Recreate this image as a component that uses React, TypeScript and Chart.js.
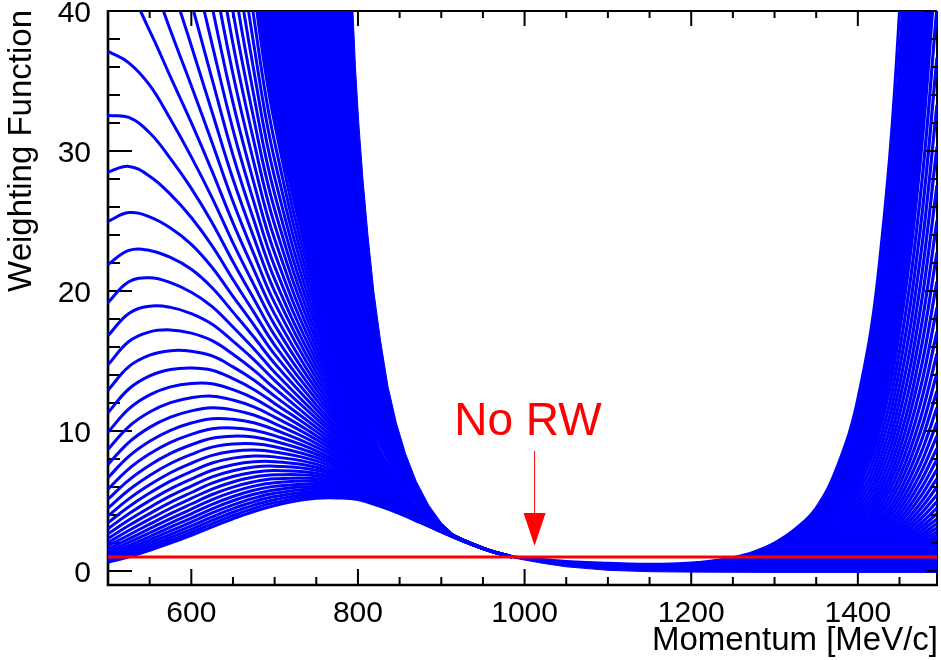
import React, { useEffect, useRef } from "react";
import { Chart, registerables } from "chart.js";

Chart.register(...registerables);

// ---------------- axes ----------------
const X_RANGE = [500, 1495];
const Y_RANGE = [-1, 40];
const X_MAJOR_TICKS = [600, 800, 1000, 1200, 1400];
const X_MINOR_TICKS = [550, 600, 650, 700, 750, 800, 850, 900, 950, 1000, 1050, 1100, 1150, 1200, 1250, 1300, 1350, 1400, 1450];
const Y_MAJOR_TICKS = [0, 10, 20, 30, 40];
const Y_MINOR_TICKS = [0, 2, 4, 6, 8, 10, 12, 14, 16, 18, 20, 22, 24, 26, 28, 30, 32, 34, 36, 38, 40];
const X_TICK_LABELS = ["600", "800", "1000", "1200", "1400"];
const Y_TICK_LABELS = ["0", "10", "20", "30", "40"];
const X_TITLE = "Momentum [MeV/c]";
const Y_TITLE = "Weighting Function";

// ---------------- nominal (no reweighting) ----------------
const noRwP = [500, 1495];
const noRwW = [1, 1];
const NO_RW_TEXT = "No RW";
const NO_RW_TEXT_AT = { p: 1004, w: 9.7 };
const NO_RW_ARROW = { p: 1012, from: 8.57, headBase: 4.14, tip: 1.81 };

// ---------------- lowest weighting curve (whole range) ----------------
const bottomP = [500, 525, 550, 575, 600, 625, 650, 675, 700, 725, 750, 775, 800, 825, 850, 875, 900, 925, 950, 975, 1000, 1025, 1050, 1075, 1100, 1125, 1150, 1175, 1200, 1225, 1250, 1275, 1300, 1325, 1350, 1375, 1400, 1425, 1450, 1475, 1495];
const bottomW = [0.62, 1.02, 1.48, 2.0, 2.54, 3.15, 3.73, 4.25, 4.68, 5.0, 5.2, 5.22, 5.1, 4.65, 4.1, 3.45, 2.8, 2.15, 1.6, 1.15, 0.92, 0.8, 0.68, 0.6, 0.55, 0.5, 0.48, 0.5, 0.57, 0.72, 0.95, 1.35, 2.0, 3.0, 4.5, 7.4, 12.3, 21.5, 40, 72, 115];

// ---------------- low-momentum family (one row per curve) ----------------
const leftP = [500, 525, 550, 575, 600, 625, 650, 675, 700, 750, 800, 850, 900, 950, 985];
const leftW = [
  [0.708, 1.145, 1.639, 2.187, 2.749, 3.373, 3.956, 4.471, 4.883, 5.358, 5.196, 4.137, 2.806, 1.601, 1],
  [0.807, 1.286, 1.814, 2.393, 2.975, 3.614, 4.198, 4.704, 5.096, 5.518, 5.295, 4.174, 2.812, 1.602, 1],
  [0.921, 1.444, 2.009, 2.617, 3.221, 3.872, 4.455, 4.949, 5.318, 5.683, 5.396, 4.211, 2.819, 1.602, 1],
  [1.051, 1.621, 2.225, 2.863, 3.486, 4.148, 4.727, 5.206, 5.55, 5.853, 5.499, 4.249, 2.825, 1.603, 1],
  [1.2, 1.819, 2.463, 3.131, 3.773, 4.444, 5.016, 5.477, 5.792, 6.028, 5.604, 4.287, 2.831, 1.604, 1],
  [1.369, 2.043, 2.728, 3.425, 4.085, 4.761, 5.322, 5.762, 6.045, 6.209, 5.711, 4.325, 2.837, 1.605, 1],
  [1.562, 2.293, 3.02, 3.747, 4.421, 5.1, 5.648, 6.062, 6.309, 6.395, 5.82, 4.364, 2.844, 1.606, 1],
  [1.782, 2.574, 3.344, 4.098, 4.786, 5.464, 5.993, 6.377, 6.584, 6.586, 5.931, 4.403, 2.85, 1.606, 1],
  [2.034, 2.89, 3.703, 4.483, 5.18, 5.854, 6.359, 6.709, 6.871, 6.783, 6.044, 4.442, 2.856, 1.607, 1],
  [2.321, 3.245, 4.1, 4.904, 5.607, 6.271, 6.747, 7.058, 7.171, 6.986, 6.16, 4.482, 2.862, 1.608, 1],
  [2.649, 3.642, 4.54, 5.364, 6.069, 6.718, 7.16, 7.424, 7.484, 7.196, 6.277, 4.522, 2.869, 1.609, 1],
  [3.022, 4.09, 5.027, 5.867, 6.569, 7.198, 7.596, 7.81, 7.81, 7.411, 6.397, 4.562, 2.875, 1.61, 1],
  [3.449, 4.591, 5.566, 6.418, 7.111, 7.711, 8.061, 8.217, 8.151, 7.633, 6.519, 4.603, 2.882, 1.61, 1],
  [3.935, 5.154, 6.163, 7.02, 7.697, 8.261, 8.553, 8.644, 8.506, 7.862, 6.643, 4.644, 2.888, 1.611, 1],
  [4.491, 5.786, 6.825, 7.679, 8.331, 8.851, 9.076, 9.094, 8.878, 8.097, 6.77, 4.685, 2.894, 1.612, 1],
  [5.124, 6.496, 7.557, 8.4, 9.018, 9.482, 9.63, 9.567, 9.265, 8.34, 6.899, 4.727, 2.901, 1.613, 1],
  [5.847, 7.293, 8.368, 9.188, 9.761, 10.16, 10.22, 10.06, 9.669, 8.589, 7.031, 4.77, 2.907, 1.614, 1],
  [6.673, 8.187, 9.265, 10.05, 10.57, 10.88, 10.84, 10.59, 10.09, 8.846, 7.165, 4.812, 2.914, 1.614, 1],
  [7.614, 9.191, 10.26, 10.99, 11.44, 11.66, 11.51, 11.14, 10.53, 9.111, 7.302, 4.856, 2.92, 1.615, 1],
  [8.689, 10.32, 11.36, 12.03, 12.38, 12.49, 12.21, 11.72, 10.99, 9.384, 7.441, 4.899, 2.926, 1.616, 1],
  [9.915, 11.58, 12.58, 13.15, 13.4, 13.38, 12.95, 12.33, 11.47, 9.665, 7.583, 4.943, 2.933, 1.617, 1],
  [11.31, 13.0, 13.93, 14.39, 14.5, 14.34, 13.74, 12.97, 11.97, 9.954, 7.728, 4.987, 2.939, 1.618, 1],
  [12.91, 14.6, 15.42, 15.74, 15.7, 15.36, 14.58, 13.64, 12.49, 10.25, 7.875, 5.031, 2.946, 1.618, 1],
  [14.73, 16.39, 17.08, 17.22, 16.99, 16.45, 15.48, 14.35, 13.04, 10.56, 8.026, 5.076, 2.953, 1.619, 1],
  [16.81, 18.4, 18.91, 18.83, 18.39, 17.63, 16.42, 15.1, 13.61, 10.88, 8.179, 5.122, 2.959, 1.62, 1],
  [19.18, 20.66, 20.94, 20.6, 19.91, 18.89, 17.43, 15.88, 14.2, 11.2, 8.335, 5.168, 2.966, 1.621, 1],
  [21.89, 22.9, 22.9, 22.4, 21.55, 20.23, 18.49, 16.71, 14.82, 11.54, 8.494, 5.214, 2.972, 1.622, 1],
  [24.98, 25.6, 25.3, 24.5, 23.33, 21.68, 19.62, 17.58, 15.47, 11.88, 8.656, 5.26, 2.979, 1.622, 1],
  [28.5, 28.9, 28.2, 26.9, 25.25, 23.22, 20.82, 18.49, 16.14, 12.24, 8.822, 5.307, 2.986, 1.623, 1],
  [32.53, 32.4, 31.3, 29.45, 27.33, 24.88, 22.09, 19.45, 16.84, 12.6, 8.99, 5.355, 2.992, 1.624, 1],
  [37.12, 36.3, 34.7, 32.26, 29.58, 26.65, 23.44, 20.46, 17.58, 12.98, 9.162, 5.403, 2.999, 1.625, 1],
  [42.36, 41.36, 38.58, 35.29, 32.02, 28.55, 24.87, 21.53, 18.35, 13.37, 9.336, 5.451, 3.006, 1.626, 1],
  [48.3, 46.43, 42.73, 38.6, 34.66, 30.59, 26.39, 22.65, 19.15, 13.77, 9.514, 5.5, 3.012, 1.627, 1],
  [55.1, 52.13, 47.31, 42.22, 37.52, 32.77, 28.0, 23.83, 19.98, 14.18, 9.696, 5.549, 3.019, 1.627, 1],
  [62.9, 58.5, 52.39, 46.18, 40.61, 35.11, 29.71, 25.07, 20.85, 14.61, 9.881, 5.599, 3.026, 1.628, 1],
  [71.8, 65.7, 58.0, 50.51, 43.96, 37.61, 31.53, 26.37, 21.76, 15.04, 10.07, 5.649, 3.033, 1.629, 1],
  [81.9, 73.8, 64.2, 55.25, 47.58, 40.3, 33.45, 27.74, 22.71, 15.49, 10.26, 5.7, 3.039, 1.63, 1],
  [93.5, 82.8, 71.1, 60.44, 51.5, 43.17, 35.5, 29.19, 23.71, 15.96, 10.46, 5.751, 3.046, 1.631, 1],
  [106.7, 93.0, 78.8, 66.1, 55.74, 46.25, 37.66, 30.7, 24.74, 16.44, 10.66, 5.802, 3.053, 1.631, 1],
  [121.8, 104.4, 87.2, 72.3, 60.34, 49.55, 39.97, 32.3, 25.82, 16.93, 10.86, 5.853, 3.06, 1.632, 1],
  [139, 117.2, 96.5, 79.1, 65.3, 53.09, 42.41, 33.98, 26.94, 17.44, 11.07, 5.905, 3.067, 1.633, 1],
  [158.6, 131.6, 106.9, 86.5, 70.7, 56.88, 45.0, 35.75, 28.12, 17.96, 11.28, 5.958, 3.074, 1.634, 1],
  [181, 147.7, 118.4, 94.6, 76.5, 60.93, 47.75, 37.61, 29.35, 18.5, 11.49, 6.012, 3.081, 1.635, 1],
  [206, 165.8, 131.1, 103.5, 82.8, 65.28, 50.67, 39.57, 30.63, 19.05, 11.71, 6.065, 3.087, 1.635, 1],
  [236, 186.1, 145.1, 113.2, 89.7, 69.9, 53.76, 41.62, 31.96, 19.62, 11.94, 6.12, 3.094, 1.636, 1],
  [269, 209, 160.7, 123.9, 97.1, 74.9, 57.05, 43.79, 33.36, 20.21, 12.16, 6.174, 3.101, 1.637, 1],
];

// ---------------- high-momentum fan (one row per curve) ----------------
const fanP = [1250, 1275, 1300, 1325, 1350, 1375, 1400, 1425, 1450, 1475, 1495];
const fanW = [
  [0.911, 1.288, 1.898, 2.835, 4.229, 6.914, 11.44, 19.87, 36.75, 65.8, 104.6],
  [0.874, 1.229, 1.802, 2.678, 3.975, 6.462, 10.63, 18.36, 33.75, 60.2, 95.0],
  [0.838, 1.172, 1.711, 2.529, 3.736, 6.04, 9.885, 16.96, 31.0, 55.0, 86.4],
  [0.803, 1.119, 1.624, 2.389, 3.512, 5.646, 9.189, 15.67, 28.47, 50.2, 78.6],
  [0.77, 1.067, 1.542, 2.257, 3.3, 5.278, 8.542, 14.48, 26.15, 45.9, 71.5],
  [0.739, 1.018, 1.464, 2.132, 3.102, 4.933, 7.94, 13.38, 24.02, 41.97, 64.9],
  [0.708, 0.971, 1.39, 2.014, 2.915, 4.611, 7.382, 12.37, 22.07, 38.36, 59.0],
  [0.679, 0.927, 1.319, 1.902, 2.74, 4.31, 6.862, 11.43, 20.27, 35.06, 53.7],
  [0.651, 0.884, 1.252, 1.797, 2.575, 4.029, 6.379, 10.56, 18.62, 32.04, 48.8],
  [0.624, 0.844, 1.189, 1.697, 2.421, 3.766, 5.93, 9.757, 17.1, 29.28, 44.35],
  [0.599, 0.805, 1.129, 1.603, 2.275, 3.52, 5.512, 9.016, 15.71, 26.76, 40.32],
  [0.574, 0.768, 1.071, 1.514, 2.138, 3.29, 5.124, 8.331, 14.43, 24.46, 36.67],
  [0.55, 0.733, 1.017, 1.43, 2.01, 3.076, 4.763, 7.698, 13.25, 22.35, 33.31],
  [0.528, 0.699, 0.966, 1.351, 1.889, 2.875, 4.428, 7.113, 12.17, 20.43, 30.3],
  [0.506, 0.667, 0.917, 1.276, 1.775, 2.687, 4.116, 6.573, 11.18, 18.67, 27.55],
  [0.485, 0.636, 0.87, 1.206, 1.669, 2.512, 3.827, 6.074, 10.27, 17.06, 25.03],
  [0.465, 0.607, 0.826, 1.139, 1.568, 2.348, 3.557, 5.612, 9.431, 15.6, 22.76],
  [0.446, 0.579, 0.784, 1.076, 1.474, 2.195, 3.307, 5.186, 8.662, 14.25, 20.7],
  [0.428, 0.553, 0.745, 1.016, 1.385, 2.051, 3.074, 4.792, 7.957, 13.03, 18.82],
  [0.41, 0.527, 0.707, 0.96, 1.302, 1.917, 2.858, 4.428, 7.308, 11.91, 17.1],
  [0.393, 0.503, 0.671, 0.907, 1.224, 1.792, 2.656, 4.092, 6.713, 10.88, 15.55],
  [0.377, 0.48, 0.637, 0.856, 1.15, 1.675, 2.469, 3.781, 6.166, 9.944, 14.14],
  [0.362, 0.458, 0.605, 0.809, 1.081, 1.566, 2.296, 3.494, 5.663, 9.088, 12.85],
  [0.347, 0.437, 0.574, 0.764, 1.016, 1.464, 2.134, 3.229, 5.202, 8.306, 11.68],
  [0.333, 0.417, 0.545, 0.722, 0.955, 1.368, 1.984, 2.983, 4.778, 7.591, 10.62],
  [0.319, 0.398, 0.517, 0.682, 0.898, 1.279, 1.844, 2.757, 4.389, 6.938, 9.65],
  [0.306, 0.379, 0.491, 0.644, 0.844, 1.195, 1.714, 2.547, 4.031, 6.341, 8.776],
  [0.293, 0.362, 0.466, 0.608, 0.793, 1.117, 1.594, 2.354, 3.703, 5.795, 7.98],
  [0.281, 0.345, 0.443, 0.575, 0.745, 1.044, 1.481, 2.175, 3.401, 5.296, 7.257],
  [0.27, 0.33, 0.42, 0.543, 0.7, 0.976, 1.377, 2.01, 3.124, 4.84, 6.593],
  [0.258, 0.314, 0.399, 0.513, 0.658, 0.913, 1.28, 1.857, 2.869, 4.424, 5.995],
  [0.248, 0.3, 0.379, 0.484, 0.619, 0.853, 1.19, 1.716, 2.635, 4.043, 5.452],
  [0.238, 0.286, 0.359, 0.457, 0.582, 0.797, 1.106, 1.586, 2.421, 3.695, 4.953],
  [0.228, 0.273, 0.341, 0.432, 0.547, 0.745, 1.028, 1.465, 2.223, 3.377, 4.504],
  [0.218, 0.261, 0.324, 0.408, 0.514, 0.697, 0.956, 1.354, 2.042, 3.086, 4.096],
  [0.21, 0.249, 0.308, 0.386, 0.483, 0.651, 0.889, 1.251, 1.876, 2.821, 3.721],
  [0.201, 0.237, 0.292, 0.364, 0.454, 0.609, 0.826, 1.156, 1.723, 2.578, 3.384],
  [0.193, 0.226, 0.277, 0.344, 0.427, 0.569, 0.768, 1.068, 1.582, 2.356, 3.077],
  [0.185, 0.216, 0.263, 0.325, 0.401, 0.532, 0.714, 0.987, 1.454, 2.153, 2.795],
  [0.177, 0.206, 0.25, 0.307, 0.377, 0.497, 0.664, 0.912, 1.335, 1.968, 2.542],
];

// ---------------- densely packed curves: outline of the solid bands ----------------
const leftBandP = [650, 675, 700, 750, 800, 850, 900, 925, 950, 975, 985, 975, 960, 945, 930, 915, 900, 885, 870, 857, 846, 836, 827, 819, 812, 806, 801, 797, 794, 790, 650];
const leftBandW = [53.76, 41.62, 31.96, 19.62, 11.94, 6.12, 2.8, 2.15, 1.6, 1.15, 1.0, 1.2, 1.45, 1.72, 2.1, 2.62, 3.45, 4.7, 6.4, 8.4, 10.6, 13.2, 16.5, 20.0, 24.0, 28.0, 32.0, 36.0, 40.0, 56, 56];
const fanCoreP = [1250, 1275, 1300, 1325, 1350, 1375, 1400, 1425, 1450, 1475, 1495, 1495, 1475, 1450, 1425, 1400, 1375, 1350, 1325, 1300, 1275, 1250];
const fanCoreW = [0.911, 1.288, 1.898, 2.835, 4.229, 6.914, 11.44, 19.87, 36.75, 65.8, 104.6, 44.35, 29.28, 17.1, 9.757, 5.93, 3.766, 2.421, 1.697, 1.189, 0.844, 0.624];
const rightBandP = [985, 1000, 1025, 1050, 1075, 1100, 1125, 1150, 1175, 1200, 1225, 1250, 1250, 1275, 1300, 1325, 1350, 1375, 1400, 1425, 1450, 1475, 1495, 1495, 1300, 1200, 1150, 1100, 1050, 1025, 1000, 985];
const rightBandW = [1.0, 0.92, 0.8, 0.68, 0.6, 0.55, 0.5, 0.48, 0.5, 0.57, 0.72, 0.95, 0.177, 0.206, 0.25, 0.307, 0.377, 0.497, 0.664, 0.912, 1.335, 1.968, 2.542, -0.1, -0.1, -0.08, -0.05, 0.05, 0.3, 0.52, 0.78, 0.95];

const BLUE = "#0000ff";
const RED = "#ff0000";
const FONT = "'Liberation Sans', Arial, Helvetica, sans-serif";

const pts = (p: number[], w: number[]) => p.map((x, i) => ({ x, y: w[i] }));

function curveDataset(p: number[], w: number[], width = 3) {
  return {
    data: pts(p, w),
    borderColor: BLUE,
    borderWidth: width,
    pointRadius: 0,
    fill: false,
    tension: 0.4,
    clip: 0,
  };
}

function bandDataset(p: number[], w: number[]) {
  return {
    data: pts(p, w),
    borderColor: BLUE,
    backgroundColor: BLUE,
    borderWidth: 1,
    pointRadius: 0,
    fill: "shape",
    tension: 0,
    clip: 0,
  };
}

const axesPlugin = {
  id: "rootAxes",
  beforeDatasetsDraw(chart: any) {
    const { ctx, chartArea: a, scales } = chart;
    const xs = scales.x;
    const ys = scales.y;
    ctx.save();
    ctx.strokeStyle = "#000";
    ctx.lineWidth = 2;
    ctx.beginPath();
    for (const v of X_MINOR_TICKS) {
      const x = xs.getPixelForValue(v);
      const major = X_MAJOR_TICKS.includes(v);
      ctx.moveTo(x, a.bottom);
      ctx.lineTo(x, a.bottom - (major ? 16 : 8));
      ctx.moveTo(x, a.top);
      ctx.lineTo(x, a.top + (major ? 15 : 7));
    }
    for (const v of Y_MINOR_TICKS) {
      const y = ys.getPixelForValue(v);
      const major = Y_MAJOR_TICKS.includes(v);
      ctx.moveTo(a.left, y);
      ctx.lineTo(a.left + (major ? 24 : 12), y);
    }
    ctx.stroke();
    // frame
    ctx.lineWidth = 2;
    ctx.beginPath();
    ctx.moveTo(a.left, a.top);
    ctx.lineTo(a.right, a.top);
    ctx.moveTo(a.right, a.top);
    ctx.lineTo(a.right, a.bottom);
    ctx.stroke();
    ctx.lineWidth = 2.6;
    ctx.beginPath();
    ctx.moveTo(a.left, a.top - 1);
    ctx.lineTo(a.left, a.bottom);
    ctx.lineTo(a.right + 1, a.bottom);
    ctx.stroke();
    ctx.restore();
  },
  afterDatasetsDraw(chart: any) {
    const { ctx, chartArea: a, scales } = chart;
    const xs = scales.x;
    const ys = scales.y;
    ctx.save();
    // right axis ticks (drawn over the curves)
    ctx.strokeStyle = "#000";
    ctx.lineWidth = 2;
    ctx.beginPath();
    for (const v of Y_MINOR_TICKS) {
      const y = ys.getPixelForValue(v);
      const major = Y_MAJOR_TICKS.includes(v);
      ctx.moveTo(a.right, y);
      ctx.lineTo(a.right - (major ? 12 : 6), y);
    }
    ctx.stroke();

    // tick labels
    ctx.fillStyle = "#000";
    ctx.font = `30px ${FONT}`;
    ctx.textBaseline = "alphabetic";
    ctx.textAlign = "center";
    X_MAJOR_TICKS.forEach((v, i) => {
      ctx.fillText(X_TICK_LABELS[i], xs.getPixelForValue(v), a.bottom + 37);
    });
    ctx.textAlign = "right";
    Y_MAJOR_TICKS.forEach((v, i) => {
      ctx.fillText(Y_TICK_LABELS[i], 91, ys.getPixelForValue(v) + 10.5);
    });

    // axis titles
    ctx.font = `33px ${FONT}`;
    ctx.textAlign = "right";
    ctx.fillText(X_TITLE, a.right + 1, 650);
    ctx.save();
    ctx.translate(31, 10);
    ctx.rotate(-Math.PI / 2);
    ctx.textAlign = "right";
    ctx.fillText(Y_TITLE, 0, 0);
    ctx.restore();

    // "No RW" annotation
    ctx.fillStyle = RED;
    ctx.strokeStyle = RED;
    ctx.font = `46px ${FONT}`;
    ctx.textAlign = "center";
    ctx.fillText(NO_RW_TEXT, xs.getPixelForValue(NO_RW_TEXT_AT.p), ys.getPixelForValue(NO_RW_TEXT_AT.w));
    const ax = xs.getPixelForValue(NO_RW_ARROW.p);
    ctx.lineWidth = 1;
    ctx.beginPath();
    ctx.moveTo(ax, ys.getPixelForValue(NO_RW_ARROW.from));
    ctx.lineTo(ax, ys.getPixelForValue(NO_RW_ARROW.headBase));
    ctx.stroke();
    ctx.beginPath();
    ctx.moveTo(ax - 11, ys.getPixelForValue(NO_RW_ARROW.headBase));
    ctx.lineTo(ax + 11, ys.getPixelForValue(NO_RW_ARROW.headBase));
    ctx.lineTo(ax, ys.getPixelForValue(NO_RW_ARROW.tip));
    ctx.closePath();
    ctx.fill();
    ctx.restore();
  },
};

export default function App() {
  const ref = useRef<HTMLCanvasElement>(null);
  useEffect(() => {
    const canvas = ref.current;
    if (!canvas) return;
    const datasets: any[] = [];
    datasets.push({
      data: pts(noRwP, noRwW),
      borderColor: RED,
      borderWidth: 3,
      pointRadius: 0,
      fill: false,
      tension: 0,
      clip: 0,
    });
    datasets.push(curveDataset(bottomP, bottomW));
    leftW.forEach((row) => datasets.push(curveDataset(leftP, row)));
    fanW.forEach((row) => datasets.push(curveDataset(fanP, row, 3.2)));
    datasets.push(bandDataset(leftBandP, leftBandW));
    datasets.push(bandDataset(fanCoreP, fanCoreW));
    datasets.push(bandDataset(rightBandP, rightBandW));

    const chart = new Chart(canvas, {
      type: "line",
      data: { datasets },
      options: {
        animation: false,
        responsive: false,
        devicePixelRatio: 1,
        events: [],
        layout: { padding: { left: 108, right: 4, top: 11, bottom: 75 } },
        scales: {
          x: { type: "linear", min: X_RANGE[0], max: X_RANGE[1], display: false },
          y: { type: "linear", min: Y_RANGE[0], max: Y_RANGE[1], display: false },
        },
        plugins: { legend: { display: false }, tooltip: { enabled: false } },
        elements: { line: { borderCapStyle: "butt", borderJoinStyle: "round" } },
      } as any,
      plugins: [axesPlugin],
    });
    return () => chart.destroy();
  }, []);
  return (
    <div style={{ position: "absolute", left: 0, top: 0, width: 941, height: 660, background: "#fff" }}>
      <canvas ref={ref} width={941} height={660} style={{ display: "block", width: 941, height: 660 }} />
    </div>
  );
}
